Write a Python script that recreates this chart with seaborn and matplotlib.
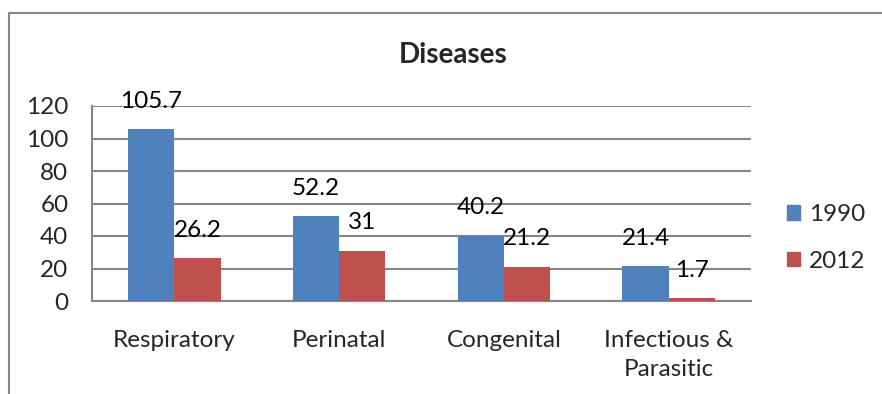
import matplotlib
matplotlib.use("Agg")
import matplotlib.pyplot as plt
import seaborn as sns
import pandas as pd
from matplotlib.lines import Line2D

categories = ["Respiratory", "Perinatal", "Congenital", "Infectious &\nParasitic"]
values_1990 = [105.7, 52.2, 40.2, 21.4]
values_2012 = [26.2, 31, 21.2, 1.7]
years = ["1990", "2012"]
label_1990 = ["105.7", "52.2", "40.2", "21.4"]
label_2012 = ["26.2", "31", "21.2", "1.7"]
yticks = [0, 20, 40, 60, 80, 100, 120]

df = pd.DataFrame({
    "Disease": categories * 2,
    "Year": [years[0]] * 4 + [years[1]] * 4,
    "Rate": values_1990 + values_2012,
})

sns.set_style("white")
plt.rcParams["font.family"] = ["Lato", "DejaVu Sans"]

FS = 17.5

fig = plt.figure(figsize=(8.82, 3.94), dpi=100)
ax = fig.add_axes([92 / 882, 1 - 301 / 394, (751 - 92) / 882, (301 - 106) / 394])

palette = {"1990": "#4F81BD", "2012": "#C0504D"}
sns.barplot(data=df, x="Disease", y="Rate", hue="Year", order=categories,
            hue_order=years, palette=palette, width=0.56, saturation=1,
            linewidth=0, ax=ax, legend=False, zorder=3)

ax.set_ylim(0, 120)
ax.set_xlim(-0.5, 3.5)
ax.set_yticks(yticks)
ax.set_yticklabels([str(t) for t in yticks], fontsize=FS)
ax.grid(axis="y", color="#868686", linewidth=1.5, zorder=0)
ax.set_xlabel("")
ax.set_ylabel("")
ax.tick_params(axis="y", length=0, pad=17)
ax.tick_params(axis="x", length=0, pad=21, labelsize=FS)
for lbl in ax.get_xticklabels():
    lbl.set_linespacing(1.45)
for s in ["top", "right"]:
    ax.spines[s].set_visible(False)
for s in ["left", "bottom"]:
    ax.spines[s].set_color("#868686")
    ax.spines[s].set_linewidth(1.5)

# value labels above each bar
for container, texts in zip(ax.containers, [label_1990, label_2012]):
    for bar, txt in zip(container, texts):
        ax.annotate(txt, (bar.get_x() + bar.get_width() / 2, bar.get_height()),
                    xytext=(0, 20), textcoords="offset points",
                    ha="center", va="center", fontsize=FS, color="black",
                    annotation_clip=False, zorder=5)

fig.text(453 / 882, 1 - 55 / 394, "Diseases", ha="center", va="center",
         fontsize=20, fontweight="bold")

handles = [plt.Rectangle((0, 0), 1, 1, color=palette[y]) for y in years]
fig.legend(handles, years, loc="center left", bbox_to_anchor=(787 / 882, 1 - 238 / 394),
           frameon=False, fontsize=FS, handlelength=0.55, handleheight=0.55,
           handletextpad=0.35, labelspacing=1.05, borderpad=0, borderaxespad=0)

# chart area border
fig.add_artist(Line2D([9 / 882, 9 / 882], [0, 1 - 13 / 394], transform=fig.transFigure,
                      color="#868686", linewidth=1.5))
fig.add_artist(Line2D([9 / 882, 1], [1 - 13 / 394, 1 - 13 / 394], transform=fig.transFigure,
                      color="#868686", linewidth=1.5))

fig.savefig("out.png", dpi=100)
